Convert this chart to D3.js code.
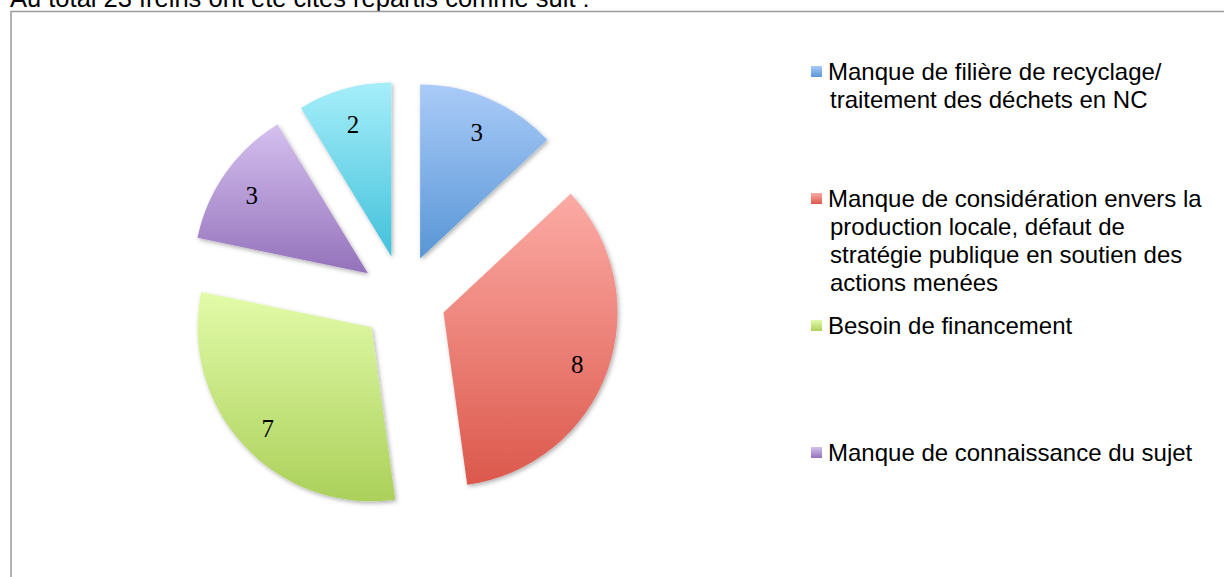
<!DOCTYPE html>
<html>
<head>
	<meta charset="utf-8">
	<title></title>
	<script src="https://d3js.org/d3.v7.min.js"></script>
	<style>
		body { margin: 0; background: #fff; }
	</style>
</head>
<body>

<script>

var width = 1224
var height = 577

// data
var categories = [
	"Manque de filière de recyclage/ traitement des déchets en NC",
	"Manque de considération envers la production locale, défaut de stratégie publique en soutien des actions menées",
	"Besoin de financement",
	"Manque de connaissance du sujet",
	""
]
var values = [3, 8, 7, 3, 2]
var legendLines = [
	["Manque de filière de recyclage/", "traitement des déchets en NC"],
	["Manque de considération envers la", "production locale, défaut de", "stratégie publique en soutien des", "actions menées"],
	["Besoin de financement"],
	["Manque de connaissance du sujet"]
]
var title = "Au total 23 freins ont été cités répartis comme suit :"

// light (top) / dark (bottom) colours per slice
var topColors = ["#aacbf8", "#fcaba5", "#e2fba9", "#d5c0ef", "#a6eefa"]
var bottomColors = ["#5896d6", "#dc584c", "#abd05a", "#9472bb", "#42c1da"]

var svg = d3.select('body').append('svg')
	.attr('width', width)
	.attr('height', height)
	.style('display', 'block')

var defs = svg.append('defs')

values.forEach(function(v, i) {
	var g = defs.append('linearGradient')
		.attr('id', 'grad' + i)
		.attr('x1', 0).attr('y1', 0).attr('x2', 0).attr('y2', 1)
	g.append('stop').attr('offset', '0%').attr('stop-color', topColors[i])
	g.append('stop').attr('offset', '100%').attr('stop-color', bottomColors[i])
})

var shadow = defs.append('filter')
	.attr('id', 'shadow')
	.attr('x', '-20%').attr('y', '-20%')
	.attr('width', '140%').attr('height', '140%')
shadow.append('feDropShadow')
	.attr('dx', 1.5).attr('dy', 2)
	.attr('stdDeviation', 2)
	.attr('flood-color', '#000')
	.attr('flood-opacity', 0.3)

// title, mostly cut off at the top
svg.append('text')
	.attr('x', 10)
	.attr('y', 7)
	.style('font-family', '"Liberation Sans", Arial, sans-serif')
	.style('font-size', '25.5px')
	.attr('fill', '#000')
	.text(title)

// frame
svg.append('rect')
	.attr('x', 11)
	.attr('y', 11.5)
	.attr('width', 1240)
	.attr('height', 620)
	.attr('fill', 'none')
	.attr('stroke', '#9a9a9a')
	.attr('stroke-width', 1.5)

// pie
var cx = 403, cy = 298
var radius = 174
var explode = 43
var labelDist = 142

var pie = d3.pie().sort(null).value(function(d) { return d; })
var arc = d3.arc().innerRadius(0).outerRadius(radius)
var arcs = pie(values)

function offset(d, dist) {
	var a = (d.startAngle + d.endAngle) / 2
	return [Math.sin(a) * dist, -Math.cos(a) * dist]
}

var slices = svg.append('g')
	.attr('transform', 'translate(' + cx + ',' + cy + ')')
	.selectAll('g')
	.data(arcs)
	.enter().append('g')
	.attr('transform', function(d) {
		var o = offset(d, explode)
		return 'translate(' + o[0] + ',' + o[1] + ')'
	})

slices.append('path')
	.attr('d', arc)
	.attr('fill', function(d, i) { return 'url(#grad' + i + ')'; })
	.attr('filter', 'url(#shadow)')

slices.append('text')
	.attr('x', function(d) { return offset(d, labelDist)[0]; })
	.attr('y', function(d) { return offset(d, labelDist)[1] + 4; })
	.attr('text-anchor', 'middle')
	.attr('dy', '0.35em')
	.style('font-family', '"Liberation Serif", "DejaVu Serif", serif')
	.style('font-size', '25px')
	.attr('fill', '#000')
	.text(function(d) { return d.data; })

// legend
var legendY = d3.scaleLinear().domain([0, 1]).range([80, 207])

var legend = svg.append('g')
	.selectAll('g')
	.data(legendLines)
	.enter().append('g')
	.attr('transform', function(d, i) { return 'translate(0,' + legendY(i) + ')'; })

legend.append('rect')
	.attr('x', 811)
	.attr('y', -14)
	.attr('width', 11)
	.attr('height', 11)
	.attr('fill', function(d, i) { return 'url(#grad' + i + ')'; })

legend.append('text')
	.style('font-family', '"Liberation Sans", Arial, sans-serif')
	.style('font-size', '24px')
	.attr('fill', '#000')
	.selectAll('tspan')
	.data(function(d) { return d; })
	.enter().append('tspan')
	.attr('x', function(d, j) { return j === 0 ? 828 : 830; })
	.attr('y', function(d, j) { return j * 28; })
	.text(function(d) { return d; })

</script>

</body>
</html>
